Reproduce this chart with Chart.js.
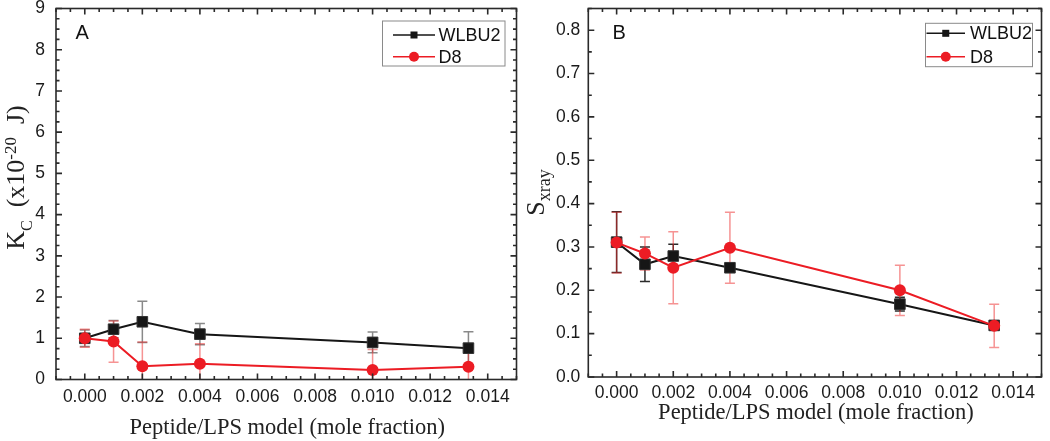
<!DOCTYPE html>
<html>
<head>
<meta charset="utf-8">
<script src="https://cdn.jsdelivr.net/npm/chart.js@4.4.1/dist/chart.umd.min.js"></script>
<style>
html, body { margin: 0; padding: 0; background: #fff; }
#wrap { position: relative; width: 1050px; height: 441px; }
.panel { position: absolute; top: 0; width: 525px; height: 441px; }
</style>
</head>
<body>
<div id="wrap">
  <div class="panel" style="left:0"><canvas id="chartA" width="525" height="441"></canvas></div>
  <div class="panel" style="left:525px"><canvas id="chartB" width="525" height="441"></canvas></div>
</div>
<script>
// peptide / LPS mole fractions (same for both panels)
const fractions = [0, 0.001, 0.002, 0.004, 0.010, 0.01333];
const seriesNames = ['WLBU2', 'D8'];

// panel A: bending modulus Kc (x10^-20 J)
const kcWLBU2 = [1.0, 1.22, 1.40, 1.10, 0.90, 0.76];
const kcWLBU2Err = [0.2, 0.21, 0.5, 0.26, 0.25, 0.4];
const kcD8 = [1.0, 0.92, 0.32, 0.38, 0.23, 0.31];
const kcD8Err = [0.22, 0.5, 0.59, 0.49, 0.5, 0.4];

// panel B: S xray order parameter
const sxWLBU2 = [0.311, 0.26, 0.279, 0.252, 0.168, 0.119];
const sxWLBU2Err = [0.07, 0.04, 0.027, 0.01, 0.016, 0.01];
const sxD8 = [0.31, 0.285, 0.252, 0.298, 0.2, 0.118];
const sxD8Err = [0.07, 0.038, 0.083, 0.082, 0.058, 0.05];

// tick labels
const xTicks = [0, 0.002, 0.004, 0.006, 0.008, 0.010, 0.012, 0.014];
const kcTicks = [0, 1, 2, 3, 4, 5, 6, 7, 8, 9];
const sxTicks = [0, 0.1, 0.2, 0.3, 0.4, 0.5, 0.6, 0.7, 0.8];

const BLACK = '#161616';
const RED = '#ec1c24';
const SANS = '"Liberation Sans", Arial, sans-serif';
const SERIF = '"Liberation Serif", "Times New Roman", serif';

function pts(ys) {
    return fractions.map((x, i) => ({ x: x, y: ys[i] }));
}

function minorValues(majors, n, min, max) {
    const step = (majors[1] - majors[0]) / (n + 1);
    const out = [];
    for (let k = Math.ceil(min / step - 1e-6); k * step <= max + 1e-9; k++) {
        if (k % (n + 1) !== 0) out.push(k * step);
    }
    return out;
}

// error bars, drawn under the lines and markers
const errorBars = {
    id: 'errorBars',
    beforeDatasetsDraw(chart) {
        const ctx = chart.ctx;
        const xs = chart.scales.x, ys = chart.scales.y;
        const a = chart.chartArea;
        ctx.save();
        ctx.beginPath();
        ctx.rect(a.left, a.top, a.right - a.left, a.bottom - a.top);
        ctx.clip();
        [1, 0].forEach(di => { // WLBU2 bars first, D8 on top
            const ds = chart.data.datasets[di];
            ctx.strokeStyle = ds.errorColor;
            ctx.lineWidth = 1.5;
            ds.data.forEach((p, i) => {
                const e = ds.errors[i];
                const px = xs.getPixelForValue(p.x);
                const t = ys.getPixelForValue(p.y + e);
                const b = ys.getPixelForValue(p.y - e);
                ctx.beginPath();
                ctx.moveTo(px, t); ctx.lineTo(px, b);
                ctx.moveTo(px - 5, t); ctx.lineTo(px + 5, t);
                ctx.moveTo(px - 5, b); ctx.lineTo(px + 5, b);
                ctx.stroke();
            });
        });
        ctx.restore();
    }
};

// frame with inward major/minor ticks on all four sides, titles, legend, panel letter
const paper = {
    id: 'paper',
    afterDraw(chart, args, o) {
        const ctx = chart.ctx;
        const a = chart.chartArea;
        const xs = chart.scales.x, ys = chart.scales.y;
        ctx.save();
        ctx.strokeStyle = '#2a2a2a';
        ctx.lineWidth = 1.6;
        ctx.strokeRect(a.left, a.top, a.right - a.left, a.bottom - a.top);

        const tick = (v, len, horiz) => {
            ctx.beginPath();
            if (horiz) {
                const px = xs.getPixelForValue(v);
                ctx.moveTo(px, a.bottom); ctx.lineTo(px, a.bottom - len);
                ctx.moveTo(px, a.top); ctx.lineTo(px, a.top + len);
            } else {
                const py = ys.getPixelForValue(v);
                ctx.moveTo(a.left, py); ctx.lineTo(a.left + len, py);
                ctx.moveTo(a.right, py); ctx.lineTo(a.right - len, py);
            }
            ctx.stroke();
        };
        o.xMajor.forEach(v => tick(v, 6, true));
        minorValues(o.xMajor, o.xMinor, xs.min, xs.max).forEach(v => tick(v, 3.5, true));
        o.yMajor.forEach(v => tick(v, 6, false));
        minorValues(o.yMajor, o.yMinor, ys.min, ys.max).forEach(v => tick(v, 3.5, false));

        // x title
        ctx.fillStyle = '#222';
        ctx.font = '22.5px ' + SERIF;
        ctx.textAlign = 'center';
        ctx.textBaseline = 'alphabetic';
        ctx.fillText(o.xTitle, (a.left + a.right) / 2 + 1, o.xTitleY);

        // y title with sub/superscripts, reading bottom to top
        ctx.save();
        ctx.translate(o.yTitleX, o.yTitleY);
        ctx.rotate(-Math.PI / 2);
        ctx.textAlign = 'left';
        let total = 0;
        o.yTitle.forEach(p => { ctx.font = p.s + 'px ' + SERIF; total += ctx.measureText(p.t).width; });
        let cx = -total / 2;
        o.yTitle.forEach(p => {
            ctx.font = p.s + 'px ' + SERIF;
            ctx.fillText(p.t, cx, p.d || 0);
            cx += ctx.measureText(p.t).width;
        });
        ctx.restore();

        // panel letter
        ctx.font = '20px ' + SANS;
        ctx.textAlign = 'left';
        ctx.fillStyle = '#111';
        ctx.fillText(o.letter, o.letterX, 38.5);

        // legend
        const L = o.legend;
        ctx.strokeStyle = '#8a8a8a';
        ctx.lineWidth = 1;
        ctx.strokeRect(L.x, L.y, L.w, L.h);
        chart.data.datasets.slice().reverse().forEach((ds, k) => {
            const ry = L.rows[k];
            ctx.strokeStyle = ds.borderColor;
            ctx.lineWidth = 1.5;
            ctx.beginPath();
            ctx.moveTo(L.lineX0, ry); ctx.lineTo(L.lineX1, ry);
            ctx.stroke();
            const mx = (L.lineX0 + L.lineX1) / 2;
            ctx.fillStyle = ds.backgroundColor;
            if (ds.pointStyle === 'rect') {
                ctx.fillRect(mx - 3.5, ry - 3.5, 7, 7);
            } else {
                ctx.beginPath();
                ctx.arc(mx, ry, 5, 0, Math.PI * 2);
                ctx.fill();
            }
            ctx.fillStyle = '#111';
            ctx.font = '18px ' + SANS;
            ctx.textBaseline = 'middle';
            ctx.fillText(ds.label, L.textX, ry + 1);
            ctx.textBaseline = 'alphabetic';
        });
        ctx.restore();
    }
};

function makeChart(id, c) {
    return new Chart(document.getElementById(id), {
        type: 'line',
        data: {
            datasets: [
                {
                    label: seriesNames[1],
                    data: pts(c.d8),
                    errors: c.d8Err,
                    errorColor: 'rgba(238, 40, 40, 0.5)',
                    borderColor: RED,
                    backgroundColor: RED,
                    borderWidth: 2,
                    pointStyle: 'circle',
                    pointRadius: 6,
                    pointBorderWidth: 0,
                    order: 1
                },
                {
                    label: seriesNames[0],
                    data: pts(c.wl),
                    errors: c.wlErr,
                    errorColor: c.wlErrColor,
                    borderColor: BLACK,
                    backgroundColor: BLACK,
                    borderWidth: 2,
                    pointStyle: 'rect',
                    pointRadius: 7.5,
                    pointBorderWidth: 1,
                    pointBorderColor: '#333',
                    order: 2
                }
            ]
        },
        options: {
            responsive: false,
            animation: false,
            layout: { padding: { left: 0, right: c.padRight, top: 8.5, bottom: 0 } },
            plugins: {
                legend: { display: false },
                tooltip: { enabled: false },
                paper: c.paper
            },
            scales: {
                x: {
                    type: 'linear',
                    min: -0.001,
                    max: 0.015,
                    grid: { display: false, drawTicks: false },
                    border: { display: false },
                    afterBuildTicks: s => { s.ticks = xTicks.map(v => ({ value: v })); },
                    afterFit: s => { s.height = c.xAxisHeight; s.paddingLeft = 0; s.paddingRight = 0; },
                    ticks: {
                        padding: c.xPad,
                        maxRotation: 0,
                        autoSkip: false,
                        color: '#1a1a1a',
                        font: { family: SANS, size: 17.5 },
                        callback: v => v.toFixed(3)
                    }
                },
                y: {
                    min: 0,
                    max: c.yMax,
                    grid: { display: false, drawTicks: false },
                    border: { display: false },
                    afterBuildTicks: s => { s.ticks = c.yTicks.map(v => ({ value: v })); },
                    afterFit: s => { s.width = c.yAxisWidth; s.paddingTop = 0; s.paddingBottom = 0; },
                    ticks: {
                        padding: c.yPad,
                        autoSkip: false,
                        color: '#1a1a1a',
                        font: { family: SANS, size: 17.5 },
                        callback: c.yFmt
                    }
                }
            }
        },
        plugins: [errorBars, paper]
    });
}

makeChart('chartA', {
    wl: kcWLBU2, wlErr: kcWLBU2Err, d8: kcD8, d8Err: kcD8Err,
    wlErrColor: 'rgba(40, 40, 40, 0.55)',
    yMax: 9, yTicks: kcTicks, yFmt: v => String(v),
    padRight: 7.5, xAxisHeight: 61.5, yAxisWidth: 56, xPad: 7, yPad: 11,
    paper: {
        xMajor: xTicks, xMinor: 3, yMajor: kcTicks, yMinor: 3,
        xTitle: 'Peptide/LPS model (mole fraction)', xTitleY: 434,
        yTitleX: 24, yTitleY: 177.5,
        yTitle: [
            { t: 'K', s: 26 }, { t: 'C', s: 16, d: 8 }, { t: '  (x10', s: 26 },
            { t: '-20', s: 17, d: -8 }, { t: '  J)', s: 26 }
        ],
        letter: 'A', letterX: 75.5,
        legend: { x: 382.5, y: 21, w: 122.5, h: 45, rows: [35, 56.7], lineX0: 393, lineX1: 435, textX: 438.5 }
    }
});

makeChart('chartB', {
    wl: sxWLBU2, wlErr: sxWLBU2Err, d8: sxD8, d8Err: sxD8Err,
    wlErrColor: 'rgba(20, 20, 20, 0.9)',
    yMax: 0.85, yTicks: sxTicks, yFmt: v => v.toFixed(1),
    padRight: 2, xAxisHeight: 64, yAxisWidth: 63.3, xPad: 6, yPad: 8,
    paper: {
        xMajor: xTicks, xMinor: 3, yMajor: sxTicks, yMinor: 1,
        xTitle: 'Peptide/LPS model (mole fraction)', xTitleY: 418.5,
        yTitleX: 18.5, yTitleY: 192.5,
        yTitle: [ { t: 'S', s: 26 }, { t: 'xray', s: 18, d: 6 } ],
        letter: 'B', letterX: 87.5,
        legend: { x: 400.5, y: 23.3, w: 107, h: 43.4, rows: [33.3, 56.7], lineX0: 401.5, lineX1: 440, textX: 445 }
    }
});
</script>
</body>
</html>
